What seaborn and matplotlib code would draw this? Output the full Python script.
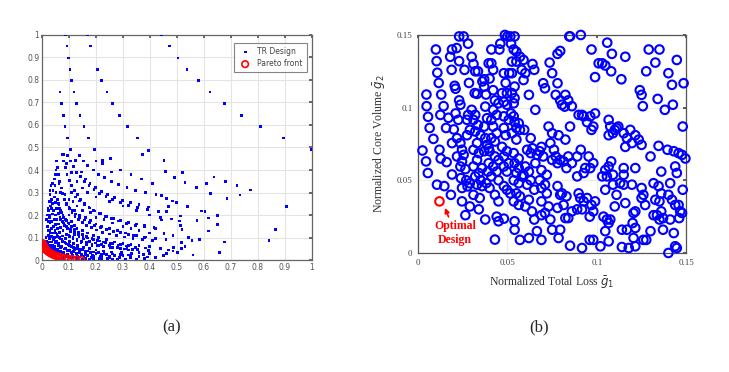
import numpy as np
import pandas as pd
import matplotlib
matplotlib.use("Agg")
import matplotlib.pyplot as plt
import seaborn as sns

# ---- panel (a): all TR designs (normalised objectives) ----
tr_x = [
    # outer sparse arcs
    0.088, 0.093, 0.098, 0.104, 0.110, 0.119, 0.128, 0.141, 0.156, 0.173, 0.196, 0.225, 0.259,
    0.170, 0.181, 0.206, 0.222, 0.241, 0.262, 0.286, 0.316, 0.353, 0.396, 0.374,
    0.444, 0.473, 0.504, 0.538, 0.579, 0.623, 0.678, 0.740, 0.811, 0.896, 1.000,
    0.067, 0.073, 0.079, 0.085, 0.096, 0.107, 0.125, 0.146,
    # right-hand sparse points
    0.452, 0.457, 0.490, 0.521, 0.530, 0.573, 0.610, 0.638, 0.626, 0.679, 0.723, 0.734, 0.774,
    0.686, 0.907, 0.865, 0.842, 0.678, 0.659, 0.560, 0.617, 0.652, 0.651, 0.616, 0.604, 0.590,
    0.575, 0.540, 0.514, 0.511, 0.514, 0.519, 0.544, 0.556, 0.584, 0.517, 0.530, 0.516, 0.489,
    0.486, 0.481, 0.462, 0.469, 0.484, 0.499, 0.462, 0.443, 0.443, 0.452, 0.462, 0.486, 0.501,
    # middle arcs
    0.055, 0.058, 0.062, 0.066, 0.071, 0.077, 0.084, 0.092, 0.101, 0.111, 0.122, 0.135, 0.149,
    0.165, 0.183, 0.203, 0.225, 0.249, 0.276, 0.305, 0.337, 0.372, 0.410,
    0.075, 0.080, 0.086, 0.093, 0.101, 0.110, 0.120, 0.131, 0.144, 0.158, 0.174, 0.192, 0.212,
    0.234, 0.258, 0.285, 0.314, 0.346, 0.381, 0.420,
    0.095, 0.105, 0.116, 0.128, 0.142, 0.157, 0.174, 0.193, 0.214, 0.237, 0.262, 0.290, 0.321,
    0.355, 0.392, 0.432,
    0.140, 0.155, 0.170, 0.190, 0.210, 0.233, 0.258, 0.285, 0.315, 0.348, 0.384, 0.423,
    0.200, 0.225, 0.255, 0.290, 0.330, 0.370, 0.410,
    # dense arcs near the origin
    0.025, 0.027, 0.030, 0.034, 0.039, 0.045, 0.053, 0.062, 0.073, 0.086, 0.101, 0.118, 0.138,
    0.161, 0.187, 0.216, 0.249, 0.286, 0.327,
    0.030, 0.033, 0.036, 0.040, 0.045, 0.051, 0.058, 0.066, 0.076, 0.088, 0.101, 0.116, 0.133,
    0.153, 0.175, 0.200, 0.228, 0.259, 0.294, 0.333, 0.376,
    0.020, 0.022, 0.025, 0.029, 0.034, 0.040, 0.048, 0.057, 0.068, 0.081, 0.096, 0.113, 0.133,
    0.156, 0.182, 0.211, 0.244,
    0.015, 0.017, 0.020, 0.024, 0.029, 0.035, 0.043, 0.052, 0.063, 0.076, 0.091, 0.108, 0.128,
    0.150, 0.175,
    0.038, 0.041, 0.045, 0.049, 0.054, 0.060, 0.067, 0.075, 0.084, 0.095, 0.107, 0.121, 0.137,
    0.155, 0.175, 0.197, 0.222, 0.250, 0.281, 0.315, 0.353, 0.395,
    0.045, 0.048, 0.052, 0.057, 0.063, 0.070, 0.078, 0.087, 0.097, 0.108, 0.120, 0.134, 0.149,
    0.166, 0.185, 0.206, 0.229, 0.255, 0.283, 0.314, 0.348, 0.385,
    # fill points in the dense region
    0.035, 0.042, 0.048, 0.056, 0.064, 0.074, 0.085, 0.097, 0.110, 0.125, 0.142, 0.160, 0.180,
    0.203, 0.030, 0.036, 0.043, 0.051, 0.060, 0.070, 0.082, 0.095, 0.110, 0.127, 0.146, 0.168,
    0.192, 0.220, 0.250, 0.280, 0.310, 0.350, 0.380, 0.420, 0.450, 0.400, 0.360, 0.320, 0.290,
    0.260, 0.230, 0.210, 0.045, 0.050, 0.060, 0.070, 0.080, 0.090, 0.100, 0.115, 0.130, 0.140,
    0.160, 0.190, 0.220, 0.260, 0.025, 0.028, 0.032, 0.027, 0.023, 0.028, 0.032, 0.035, 0.040,
    0.044, 0.050, 0.055, 0.060, 0.068, 0.078, 0.090, 0.102, 0.115, 0.130, 0.145, 0.165, 0.185,
    0.060, 0.065, 0.072, 0.080, 0.090, 0.100, 0.110, 0.120, 0.130, 0.150, 0.170, 0.190, 0.210,
    0.240, 0.270, 0.300, 0.330, 0.360, 0.400, 0.440, 0.470, 0.100, 0.120, 0.140, 0.160, 0.180,
    0.200, 0.220, 0.250, 0.280, 0.310, 0.340, 0.380, 0.420, 0.460,
]
tr_y = [
    1.000, 0.951, 0.898, 0.847, 0.799, 0.747, 0.695, 0.643, 0.593, 0.542, 0.492, 0.441, 0.391,
    1.000, 0.951, 0.847, 0.796, 0.747, 0.695, 0.643, 0.593, 0.542, 0.486, 0.468,
    1.000, 0.951, 0.898, 0.847, 0.799, 0.747, 0.695, 0.643, 0.593, 0.542, 0.492,
    0.747, 0.695, 0.643, 0.593, 0.542, 0.492, 0.441, 0.391,
    0.441, 0.392, 0.367, 0.390, 0.345, 0.322, 0.339, 0.369, 0.296, 0.350, 0.330, 0.289, 0.311,
    0.272, 0.237, 0.136, 0.086, 0.080, 0.034, 0.022, 0.129, 0.157, 0.199, 0.187, 0.215, 0.218,
    0.177, 0.237, 0.196, 0.173, 0.153, 0.136, 0.099, 0.086, 0.092, 0.079, 0.059, 0.052, 0.055,
    0.110, 0.182, 0.215, 0.237, 0.262, 0.255, 0.274, 0.286, 0.178, 0.117, 0.030, 0.040, 0.032,
    0.440, 0.410, 0.380, 0.350, 0.320, 0.295, 0.270, 0.248, 0.228, 0.210, 0.194, 0.179, 0.166,
    0.154, 0.143, 0.133, 0.124, 0.116, 0.109, 0.102, 0.096, 0.091, 0.086,
    0.470, 0.440, 0.410, 0.380, 0.355, 0.330, 0.310, 0.290, 0.270, 0.252, 0.236, 0.221, 0.207,
    0.195, 0.184, 0.173, 0.164, 0.155, 0.147, 0.140,
    0.465, 0.440, 0.415, 0.390, 0.370, 0.350, 0.330, 0.312, 0.296, 0.281, 0.268, 0.256, 0.244,
    0.234, 0.224, 0.215,
    0.465, 0.440, 0.420, 0.400, 0.380, 0.365, 0.350, 0.336, 0.323, 0.310, 0.300, 0.290,
    0.440, 0.430, 0.450, 0.400, 0.380, 0.360, 0.340,
    0.220, 0.190, 0.165, 0.140, 0.120, 0.100, 0.085, 0.072, 0.061, 0.052, 0.044, 0.037, 0.031,
    0.026, 0.022, 0.018, 0.015, 0.012, 0.010,
    0.290, 0.260, 0.230, 0.205, 0.180, 0.158, 0.139, 0.122, 0.107, 0.094, 0.083, 0.073, 0.064,
    0.057, 0.050, 0.045, 0.040, 0.036, 0.032, 0.029, 0.026,
    0.150, 0.130, 0.110, 0.095, 0.080, 0.067, 0.056, 0.047, 0.039, 0.032, 0.027, 0.022, 0.018,
    0.014, 0.011, 0.008, 0.006,
    0.100, 0.085, 0.072, 0.060, 0.050, 0.041, 0.034, 0.027, 0.022, 0.017, 0.013, 0.009, 0.006,
    0.004, 0.002,
    0.340, 0.310, 0.280, 0.255, 0.230, 0.208, 0.188, 0.170, 0.154, 0.139, 0.126, 0.114, 0.103,
    0.093, 0.084, 0.076, 0.069, 0.063, 0.057, 0.052, 0.047, 0.043,
    0.360, 0.330, 0.300, 0.270, 0.245, 0.220, 0.200, 0.180, 0.165, 0.150, 0.137, 0.125, 0.114,
    0.104, 0.095, 0.087, 0.080, 0.073, 0.067, 0.062, 0.057, 0.053,
    0.170, 0.150, 0.130, 0.115, 0.100, 0.090, 0.078, 0.068, 0.060, 0.052, 0.046, 0.040, 0.035,
    0.031, 0.120, 0.105, 0.090, 0.077, 0.066, 0.057, 0.049, 0.041, 0.035, 0.029, 0.024, 0.020,
    0.016, 0.013, 0.009, 0.005, 0.003, 0.004, 0.008, 0.012, 0.020, 0.030, 0.035, 0.045, 0.050,
    0.055, 0.060, 0.065, 0.060, 0.045, 0.035, 0.030, 0.025, 0.020, 0.015, 0.012, 0.010, 0.013,
    0.008, 0.006, 0.003, 0.002, 0.080, 0.065, 0.055, 0.130, 0.170, 0.200, 0.240, 0.270, 0.250,
    0.220, 0.200, 0.180, 0.160, 0.145, 0.130, 0.115, 0.105, 0.095, 0.085, 0.078, 0.070, 0.062,
    0.250, 0.230, 0.210, 0.190, 0.175, 0.160, 0.170, 0.155, 0.140, 0.130, 0.120, 0.110, 0.100,
    0.090, 0.080, 0.075, 0.070, 0.065, 0.060, 0.050, 0.045, 0.200, 0.220, 0.200, 0.190, 0.175,
    0.160, 0.150, 0.140, 0.130, 0.120, 0.110, 0.100, 0.095, 0.090,
]
# more designs in the crowded lower-left band
tr_x2 = [
    0.12, 0.14, 0.16, 0.18, 0.20, 0.22, 0.24, 0.27, 0.30, 0.33, 0.36, 0.39,
    0.10, 0.115, 0.13, 0.147, 0.165, 0.185, 0.205, 0.228, 0.252, 0.278, 0.305, 0.335,
    0.07, 0.08, 0.092, 0.105, 0.12, 0.135, 0.152, 0.17, 0.19, 0.212, 0.236, 0.262, 0.29, 0.32,
    0.09, 0.10, 0.112, 0.125, 0.14, 0.157, 0.175, 0.195, 0.217, 0.24, 0.265, 0.292, 0.32, 0.35, 0.385,
    0.11, 0.125, 0.14, 0.157, 0.175, 0.195, 0.217, 0.24, 0.265, 0.292, 0.32, 0.35, 0.38, 0.415,
    0.16, 0.178, 0.198, 0.22, 0.244, 0.27, 0.298, 0.328, 0.36, 0.395,
    0.02, 0.022, 0.025, 0.03, 0.035, 0.04, 0.05, 0.06, 0.07, 0.08,
    0.035, 0.04, 0.047, 0.055, 0.064, 0.075, 0.088, 0.10, 0.018, 0.02,
    0.022, 0.026, 0.03, 0.033, 0.05, 0.058, 0.067, 0.077, 0.089, 0.102,
    0.117, 0.133, 0.15, 0.17, 0.19, 0.21, 0.23, 0.26, 0.29, 0.32,
    0.05, 0.052, 0.063, 0.07, 0.085, 0.10, 0.115, 0.13, 0.15, 0.18,
    0.20, 0.23, 0.26, 0.30, 0.33, 0.36, 0.40, 0.08, 0.09, 0.11,
    0.13, 0.15, 0.17, 0.20, 0.25, 0.30, 0.35, 0.40, 0.44,
]
tr_y2 = [
    0.045, 0.040, 0.036, 0.032, 0.029, 0.026, 0.024, 0.021, 0.019, 0.017, 0.015, 0.013,
    0.11, 0.10, 0.092, 0.084, 0.077, 0.071, 0.066, 0.061, 0.057, 0.053, 0.049, 0.046,
    0.18, 0.165, 0.15, 0.137, 0.125, 0.115, 0.106, 0.098, 0.091, 0.085, 0.079, 0.074, 0.069, 0.065,
    0.25, 0.235, 0.22, 0.205, 0.19, 0.178, 0.166, 0.155, 0.145, 0.136, 0.128, 0.121, 0.114, 0.108, 0.102,
    0.30, 0.28, 0.262, 0.246, 0.231, 0.218, 0.206, 0.195, 0.185, 0.176, 0.168, 0.16, 0.153, 0.146,
    0.36, 0.34, 0.322, 0.306, 0.291, 0.278, 0.266, 0.255, 0.245, 0.236,
    0.05, 0.04, 0.03, 0.025, 0.02, 0.015, 0.01, 0.007, 0.005, 0.003,
    0.06, 0.05, 0.042, 0.036, 0.03, 0.025, 0.021, 0.018, 0.18, 0.20,
    0.23, 0.26, 0.31, 0.33, 0.12, 0.105, 0.093, 0.082, 0.072, 0.063,
    0.056, 0.05, 0.045, 0.04, 0.036, 0.033, 0.03, 0.027, 0.024, 0.022,
    0.38, 0.40, 0.34, 0.30, 0.29, 0.27, 0.26, 0.24, 0.22, 0.21,
    0.19, 0.18, 0.165, 0.15, 0.14, 0.13, 0.12, 0.47, 0.43, 0.39,
    0.35, 0.32, 0.30, 0.28, 0.26, 0.24, 0.22, 0.20, 0.19,
]
pareto_x = [0.003, 0.004, 0.006, 0.008, 0.010, 0.012, 0.015, 0.018, 0.021, 0.025, 0.029, 0.033,
            0.038, 0.043, 0.049, 0.056, 0.064, 0.073, 0.084, 0.097, 0.112, 0.128, 0.146]
pareto_y = [0.075, 0.070, 0.064, 0.059, 0.054, 0.050, 0.046, 0.042, 0.039, 0.035, 0.032, 0.029,
            0.026, 0.023, 0.020, 0.017, 0.014, 0.012, 0.009, 0.006, 0.004, 0.002, 0.000]

# ---- panel (b): zoom on the low-loss / low-volume corner ----
g1 = [
    0.0025, 0.0045, 0.0055, 0.0086, 0.0065, 0.0056, 0.0048, 0.0047,
    0.010, 0.0104, 0.0108, 0.0116, 0.013, 0.0125, 0.012, 0.0127, 0.0106, 0.0147, 0.018, 0.0157,
    0.016, 0.0184, 0.019, 0.017, 0.0143,
    0.019, 0.0188, 0.0205, 0.021, 0.023, 0.0216, 0.023, 0.0255, 0.028, 0.026, 0.0285, 0.023,
    0.0237, 0.021, 0.0225, 0.020, 0.0218, 0.019, 0.0237, 0.0246, 0.0255, 0.0218, 0.0246, 0.0237,
    0.0265, 0.024, 0.0246, 0.0246, 0.0265, 0.029, 0.0277, 0.029, 0.027, 0.0274, 0.029, 0.0274,
    0.028, 0.031,
    0.030, 0.031, 0.032, 0.0335, 0.0317, 0.033, 0.030, 0.032, 0.0335, 0.032, 0.035, 0.033, 0.031,
    0.034, 0.033, 0.031, 0.0358, 0.034, 0.032, 0.035, 0.033, 0.0358, 0.031, 0.0345, 0.034, 0.0376,
    0.036, 0.037, 0.037, 0.038, 0.0376, 0.0386, 0.037, 0.0376, 0.0386, 0.0395, 0.037, 0.0395,
    0.039, 0.0382, 0.040,
    0.041, 0.0395, 0.041, 0.042, 0.040, 0.042, 0.043, 0.045, 0.042, 0.044, 0.041, 0.042, 0.044,
    0.041, 0.043, 0.040, 0.043, 0.045, 0.042, 0.044, 0.041, 0.045, 0.043, 0.045, 0.044, 0.045,
    0.048, 0.043, 0.0486, 0.050, 0.0516, 0.046, 0.0455, 0.048, 0.049, 0.047, 0.0497, 0.048,
    0.0497, 0.048, 0.0507, 0.048, 0.049, 0.047, 0.0497, 0.048, 0.0507, 0.048, 0.0497, 0.048,
    0.0497, 0.0516,
    0.054, 0.052, 0.0535, 0.055, 0.0525, 0.055, 0.051, 0.0525, 0.054, 0.0525, 0.054, 0.0535,
    0.052, 0.0535, 0.054, 0.0563, 0.055, 0.057, 0.0525, 0.055, 0.0535, 0.0563, 0.054, 0.0563,
    0.055, 0.058, 0.0535, 0.0563, 0.055, 0.057, 0.0535, 0.0563, 0.054, 0.054, 0.057,
    0.057, 0.059, 0.058, 0.060, 0.059, 0.062, 0.0594, 0.063, 0.061, 0.063, 0.060, 0.062, 0.059,
    0.063, 0.061, 0.065, 0.062, 0.060, 0.0637, 0.062, 0.065, 0.0665, 0.064, 0.065, 0.0656, 0.064,
    0.0665, 0.0656,
    0.069, 0.068, 0.070, 0.069, 0.072, 0.068, 0.071, 0.069, 0.072, 0.069, 0.073, 0.071, 0.074,
    0.069, 0.075, 0.069, 0.070, 0.071, 0.0736, 0.075, 0.073, 0.075, 0.074, 0.076, 0.075, 0.078,
    0.078, 0.0795, 0.078, 0.077, 0.0795, 0.0805, 0.0824, 0.082, 0.084, 0.086, 0.085, 0.0824,
    0.0786, 0.077, 0.0795, 0.0814, 0.084, 0.086, 0.083, 0.078, 0.0805, 0.0795, 0.083, 0.0814,
    0.084, 0.0824, 0.078, 0.0795, 0.0786, 0.086, 0.085, 0.0846, 0.085,
    0.091, 0.089, 0.091, 0.0898, 0.0917, 0.0926, 0.0963, 0.0945, 0.097, 0.099, 0.098, 0.099,
    0.097, 0.089, 0.0926, 0.0935, 0.0963, 0.0954, 0.098, 0.0898, 0.0907, 0.0926, 0.0945, 0.097,
    0.099, 0.0917, 0.096, 0.098, 0.0917, 0.096, 0.098, 0.089,
    0.101, 0.103, 0.1047, 0.108, 0.1058, 0.1084, 0.1066, 0.1075, 0.1066, 0.109, 0.111, 0.110,
    0.108, 0.1066, 0.1047, 0.103, 0.1056, 0.109, 0.1047, 0.1037, 0.1056, 0.1066, 0.1047, 0.1075,
    0.102, 0.1066, 0.110, 0.111, 0.109,
    0.1137, 0.1159, 0.112, 0.115, 0.1168, 0.1159, 0.115, 0.115, 0.113, 0.115, 0.1159, 0.114,
    0.1168, 0.114, 0.1178, 0.1187,
    0.1196, 0.1215, 0.1234, 0.125, 0.1215, 0.1196, 0.1205, 0.1215, 0.120, 0.1215, 0.1205, 0.1215,
    0.125, 0.126, 0.125, 0.127, 0.126, 0.1276, 0.124, 0.125, 0.1257, 0.1276, 0.129, 0.130, 0.130,
    0.135, 0.1327, 0.134, 0.1345, 0.1317, 0.1345, 0.1327, 0.135, 0.136, 0.1317, 0.1336, 0.136,
    0.137, 0.135, 0.136, 0.138, 0.137,
    0.140, 0.142, 0.1425, 0.1395, 0.143, 0.141, 0.140, 0.142, 0.1438, 0.1457, 0.1447, 0.1457,
    0.1476, 0.1495, 0.148, 0.1466, 0.1476, 0.141, 0.143, 0.1438, 0.1447, 0.140, 0.1447, 0.1485,
    0.148, 0.1438, 0.146,
]
g2 = [
    0.0705, 0.063, 0.055, 0.0785, 0.086, 0.0937, 0.101, 0.109,
    0.140, 0.132, 0.124, 0.117, 0.109, 0.095, 0.071, 0.065, 0.047, 0.046, 0.135, 0.086,
    0.0625, 0.040, 0.054, 0.093, 0.101,
    0.140, 0.126, 0.115, 0.113, 0.132, 0.141, 0.149, 0.149, 0.144, 0.126, 0.117, 0.105,
    0.102, 0.096, 0.0916, 0.085, 0.079, 0.0756, 0.0756, 0.071, 0.0675, 0.0664, 0.063, 0.0595,
    0.0577, 0.0515, 0.0447, 0.0355, 0.026, 0.032, 0.0458, 0.048, 0.050, 0.081, 0.0847, 0.0916,
    0.095, 0.0916,
    0.135, 0.130, 0.125, 0.125, 0.110, 0.1095, 0.0985, 0.095, 0.088, 0.0836, 0.081, 0.0756, 0.071,
    0.0687, 0.064, 0.0595, 0.0584, 0.055, 0.0527, 0.050, 0.047, 0.046, 0.040, 0.0378, 0.030, 0.023,
    0.118, 0.1195, 0.1145, 0.109, 0.1007, 0.0927, 0.087, 0.079, 0.0744, 0.072, 0.070, 0.0618,
    0.056, 0.048, 0.0447,
    0.140, 0.1305, 0.1305, 0.126, 0.120, 0.112, 0.105, 0.103, 0.0985, 0.095, 0.0916, 0.087,
    0.0824, 0.079, 0.0767, 0.070, 0.0664, 0.064, 0.0595, 0.056, 0.0527, 0.050, 0.040, 0.0355,
    0.025, 0.0218, 0.0236, 0.0092, 0.150, 0.149, 0.149, 0.144, 0.140, 0.1237, 0.117, 0.110,
    0.110, 0.104, 0.102, 0.094, 0.0916, 0.086, 0.081, 0.073, 0.070, 0.0664, 0.0618, 0.0595,
    0.056, 0.046, 0.0435, 0.041,
    0.149, 0.144, 0.140, 0.1385, 0.1317, 0.1317, 0.1237, 0.1237, 0.1145, 0.110, 0.1065, 0.103,
    0.096, 0.094, 0.090, 0.0893, 0.086, 0.0847, 0.0824, 0.078, 0.0687, 0.065, 0.0618, 0.0584,
    0.055, 0.0527, 0.050, 0.048, 0.041, 0.039, 0.0355, 0.033, 0.0218, 0.016, 0.009,
    0.135, 0.1328, 0.126, 0.1237, 0.119, 0.1088, 0.0847, 0.079, 0.071, 0.0687, 0.0595, 0.056,
    0.0538, 0.050, 0.047, 0.0435, 0.0366, 0.032, 0.0286, 0.0103, 0.023, 0.015, 0.130, 0.126,
    0.0985, 0.072, 0.0675, 0.0618,
    0.073, 0.070, 0.0664, 0.057, 0.0538, 0.050, 0.047, 0.0447, 0.041, 0.0355, 0.032, 0.0275,
    0.023, 0.026, 0.016, 0.009, 0.1168, 0.1133, 0.131, 0.1237, 0.087, 0.0824, 0.0756, 0.071,
    0.064, 0.0618,
    0.137, 0.139, 0.1168, 0.1088, 0.105, 0.102, 0.1088, 0.1007, 0.105, 0.101, 0.087, 0.078,
    0.081, 0.0664, 0.064, 0.063, 0.0664, 0.0618, 0.0584, 0.046, 0.041, 0.040, 0.039, 0.033,
    0.024, 0.024, 0.031, 0.016, 0.0103, 0.0286, 0.005, 0.149, 0.149,
    0.150, 0.0664, 0.071, 0.095, 0.095, 0.094, 0.094, 0.090, 0.0847, 0.096, 0.087, 0.121,
    0.140, 0.0527, 0.055, 0.0584, 0.0584, 0.0664, 0.0618, 0.041, 0.0378, 0.0355, 0.0378, 0.033,
    0.0355, 0.030, 0.025, 0.0286, 0.0034, 0.009, 0.009, 0.030,
    0.1305, 0.1305, 0.129, 0.125, 0.1447, 0.137, 0.0916, 0.087, 0.081, 0.0824, 0.086, 0.0847,
    0.063, 0.0595, 0.057, 0.0527, 0.0527, 0.0538, 0.0435, 0.025, 0.023, 0.0206, 0.015, 0.023,
    0.0046, 0.008, 0.032, 0.040, 0.047,
    0.1195, 0.135, 0.087, 0.0824, 0.079, 0.073, 0.0584, 0.0538, 0.048, 0.047, 0.0343, 0.016,
    0.016, 0.0041, 0.0034, 0.0847,
    0.0756, 0.081, 0.078, 0.0744, 0.0584, 0.047, 0.0275, 0.0286, 0.0206, 0.0172, 0.0103, 0.0046,
    0.0447, 0.040, 0.0378, 0.033, 0.009, 0.009, 0.112, 0.1088, 0.101, 0.125, 0.140, 0.0664, 0.015,
    0.140, 0.131, 0.106, 0.0737, 0.048, 0.046, 0.0366, 0.0355, 0.041, 0.026, 0.026, 0.0286,
    0.024, 0.023, 0.056, 0.0985, 0.016,
    0.1237, 0.1157, 0.102, 0.071, 0.070, 0.048, 0.040, 0.0366, 0.033, 0.033, 0.055, 0.0687,
    0.0675, 0.065, 0.0435, 0.0286, 0.0275, 0.023, 0.0137, 0.0046, 0.0034, 0.000, 0.1328, 0.1168,
    0.087, 0.0595, 0.024,
]
optimal_g1 = [0.012]
optimal_g2 = [0.0355]

BLUE = "#0000ff"
RED = "#ff0000"

sns.set_theme(style="white")
plt.rcParams["font.family"] = ["DejaVu Sans"]

fig = plt.figure(figsize=(7.29, 3.72), dpi=100)
ax_a = fig.add_axes([0.0576, 0.301, 0.370, 0.605])
ax_b = fig.add_axes([0.5734, 0.320, 0.368, 0.586])

# ---------------- panel (a) ----------------
df_tr = pd.DataFrame({"x": tr_x + tr_x2, "y": tr_y + tr_y2})
df_par = pd.DataFrame({"x": pareto_x, "y": pareto_y})
sns.scatterplot(data=df_tr, x="x", y="y", ax=ax_a, marker="s", s=4, color=BLUE,
                edgecolor="none", label="TR Design", zorder=3)
sns.scatterplot(data=df_par, x="x", y="y", ax=ax_a, marker="o", s=22, facecolor="none",
                edgecolor=RED, linewidth=1.2, label="Pareto front", zorder=4)
ax_a.set_xlim(0, 1)
ax_a.set_ylim(0, 1)
ticks_a = np.round(np.arange(0, 1.01, 0.1), 1)
ax_a.set_xticks(ticks_a)
ax_a.set_yticks(ticks_a)
labels_a = ["0"] + [f"{t:g}" for t in ticks_a[1:-1]] + ["1"]
ax_a.set_xticklabels(labels_a)
ax_a.set_yticklabels(labels_a)
ax_a.set_xlabel("")
ax_a.set_ylabel("")
ax_a.grid(True, color="#e4e4e4", linewidth=0.8)
ax_a.set_axisbelow(True)
ax_a.tick_params(axis="both", labelsize=5.5, colors="#555555", length=2, direction="in",
                 pad=2, top=True, right=True)
for sp in ax_a.spines.values():
    sp.set_color("#666666")
    sp.set_linewidth(0.9)
leg = ax_a.legend(loc="upper right", fontsize=5.5, frameon=True, fancybox=False,
                  borderpad=0.5, handletextpad=0.6, labelspacing=0.4,
                  bbox_to_anchor=(0.995, 0.98))
leg.get_frame().set_edgecolor("#666666")
leg.get_frame().set_linewidth(0.8)
for t in leg.get_texts():
    t.set_color("#444444")

# ---------------- panel (b) ----------------
serif = ["Liberation Serif", "DejaVu Serif"]
df_b = pd.DataFrame({"g1": g1, "g2": g2})
sns.scatterplot(data=df_b, x="g1", y="g2", ax=ax_b, marker="o", s=38, facecolor="none",
                edgecolor=BLUE, linewidth=1.5, zorder=3, clip_on=False)
sns.scatterplot(x=optimal_g1, y=optimal_g2, ax=ax_b, marker="o", s=38, facecolor="none",
                edgecolor=RED, linewidth=1.5, zorder=4)
ax_b.set_xlim(0, 0.15)
ax_b.set_ylim(0, 0.15)
ticks_b = [0, 0.05, 0.1, 0.15]
ax_b.set_xticks(ticks_b)
ax_b.set_yticks(ticks_b)
ax_b.set_xticklabels(["0", "0.05", "0.1", "0.15"], family=serif)
ax_b.set_yticklabels(["0", "0.05", "0.1", "0.15"], family=serif)
ax_b.grid(True, color="#ececec", linewidth=0.8)
ax_b.set_axisbelow(True)
ax_b.tick_params(axis="both", labelsize=6.5, colors="#444444", length=2, direction="in",
                 pad=4, top=True, right=True)
for sp in ax_b.spines.values():
    sp.set_color("#555555")
    sp.set_linewidth(0.9)
ax_b.set_xlabel(r"Normalized Total Loss $\bar{g}_1$", family=serif, fontsize=8.5,
                color="#333333", labelpad=6)
ax_b.set_ylabel(r"Normalized Core Volume $\bar{g}_2$", family=serif, fontsize=8.5,
                color="#333333", labelpad=6)
ax_b.annotate("Optimal\nDesign", xy=(0.0151, 0.031), xytext=(0.0207, 0.0135),
              ha="center", va="center", color=RED, fontsize=8.5, fontweight="bold",
              family=serif, linespacing=1.25,
              arrowprops=dict(arrowstyle="-|>", color=RED, lw=1.2, mutation_scale=7,
                              shrinkA=9, shrinkB=0))

fig.text(0.236, 0.121, "(a)", ha="center", va="center", fontsize=12, family=serif)
fig.text(0.739, 0.121, "(b)", ha="center", va="center", fontsize=12, family=serif)

fig.savefig("out.png", dpi=100, facecolor="white")
